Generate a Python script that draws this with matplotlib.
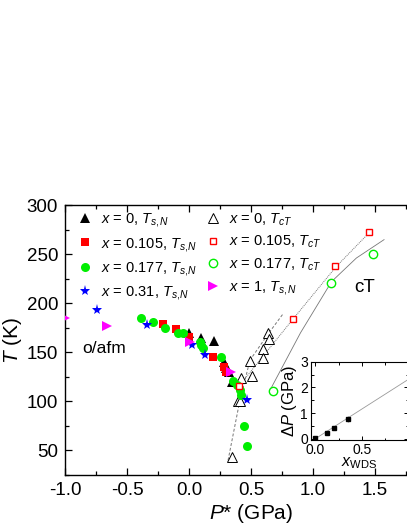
import numpy as np
import matplotlib
matplotlib.use('Agg')
import matplotlib.pyplot as plt
from matplotlib.ticker import MultipleLocator, FormatStrFormatter, FixedLocator

plt.rcParams['font.family'] = ['Liberation Sans', 'DejaVu Sans']
plt.rcParams['mathtext.fontset'] = 'custom'
plt.rcParams['mathtext.rm'] = 'Liberation Sans'
plt.rcParams['mathtext.it'] = 'Liberation Sans:italic'
plt.rcParams['mathtext.bf'] = 'Liberation Sans:bold'
plt.rcParams['axes.unicode_minus'] = False

# ---------------- data ----------------
# x = 0, T_s,N (filled black triangles)
p_x0_sn = [0.0, 0.10, 0.20, 0.28, 0.29, 0.30, 0.32, 0.35]
t_x0_sn = [169.5, 165, 161, 140, 137, 134, 130, 120]
# x = 0.105, T_s,N (filled red squares)
p_x105_sn = [-0.21, -0.105, 0.0, 0.197, 0.28, 0.30]
t_x105_sn = [178.5, 173.5, 166, 144.7, 135, 130]
# x = 0.177, T_s,N (filled green circles)
p_x177_sn = [-0.39, -0.29, -0.19, -0.09, -0.05, 0.09, 0.095, 0.11, 0.255,
             0.358, 0.385, 0.41, 0.42, 0.44, 0.47]
t_x177_sn = [185, 180.5, 174.7, 169.7, 169.5, 160.5, 157, 154, 144.7,
             121, 116.6, 112, 106.5, 75.4, 55]
# x = 0.31, T_s,N (blue stars)
p_x31_sn = [-0.744, -0.34, 0.025, 0.13, 0.47]
t_x31_sn = [193.4, 177.5, 157, 147, 101.4]
# x = 1, T_s,N (magenta right triangles)
p_x1_sn = [-1.0, -0.66, 0.01, 0.34]
t_x1_sn = [185, 176.8, 160.5, 130]
# x = 0, T_cT (open triangles)
p_x0_ct = [0.344, 0.392, 0.411, 0.419, 0.492, 0.505, 0.594, 0.599, 0.640, 0.648]
t_x0_ct = [43, 100, 100, 124, 141, 126, 153, 144, 169.5, 164]
# x = 0.105, T_cT (open red squares)
p_x105_ct = [0.403, 0.836, 1.18, 1.454]
t_x105_ct = [115.6, 183.6, 237.5, 272.4]
# x = 0.177, T_cT (open green circles)
p_x177_ct = [0.68, 1.145, 1.486]
t_x177_ct = [110.9, 220.8, 250.5]

# guide lines
gl_x0_p = [0.315, 0.411, 0.492, 0.640, 0.760]
gl_x0_t = [40, 101.4, 142, 169, 189.4]
gl_x105_p = [0.403, 0.84, 1.185, 1.47]
gl_x105_t = [115.6, 184, 237, 274]
gl_x177_p = [0.66, 0.90, 1.15, 1.35, 1.573]
gl_x177_t = [113, 170, 222, 246, 264.7]

# inset
x_wds = [0.0, 0.12, 0.20, 0.35]
dP = [0.03, 0.23, 0.40, 0.77]
dP_err = [0.04, 0.05, 0.05, 0.1]
fit_x = [0.0, 1.0]
fit_y = [0.0, 2.31]

x_ticklabels = [-1.0, -0.5, 0.0, 0.5, 1.0, 1.5]
inset_x_ticklabels = [0.0, 0.5]

labels_left = [r'$x$ = 0, $T_{s,\!N}$', r'$x$ = 0.105, $T_{s,\!N}$',
               r'$x$ = 0.177, $T_{s,\!N}$', r'$x$ = 0.31, $T_{s,\!N}$']
labels_right = [r'$x$ = 0, $T_{cT}$', r'$x$ = 0.105, $T_{cT}$',
                r'$x$ = 0.177, $T_{cT}$', r'$x$ = 1, $T_{s,\!N}$']

# ---------------- figure ----------------
W, H = 407, 527
fig = plt.figure(figsize=(W / 100, H / 100), dpi=100)
ax = fig.add_axes([65 / W, 52 / H, 372 / W, 270 / H])

gray = '#777777'
ax.plot(gl_x0_p, gl_x0_t, color=gray, lw=0.7, dashes=(3, 2), zorder=1)
ax.plot(gl_x105_p, gl_x105_t, color=gray, lw=0.7, dashes=(1, 1), zorder=1)
ax.plot(gl_x177_p, gl_x177_t, color=gray, lw=0.6, zorder=1)

h1, = ax.plot(p_x0_sn, t_x0_sn, '^', color='black', ms=6.5, mew=0, ls='none', zorder=3)
h2, = ax.plot(p_x105_sn, t_x105_sn, 's', color='#ff0000', ms=5.5, mew=0, ls='none', zorder=3)
h3, = ax.plot(p_x177_sn, t_x177_sn, 'o', color='#00ee00', ms=6.5, mew=0, ls='none', zorder=3)
h4, = ax.plot(p_x31_sn, t_x31_sn, '*', color='#0000ff', ms=8, mew=0, ls='none', zorder=3)
h8, = ax.plot(p_x1_sn, t_x1_sn, '>', color='#ff00ff', ms=6.5, mew=0, ls='none', zorder=3)
h5, = ax.plot(p_x0_ct, t_x0_ct, '^', mfc='white', mec='black', mew=0.7, ms=7, ls='none', zorder=2)
h6, = ax.plot(p_x105_ct, t_x105_ct, 's', mfc='white', mec='#ff0000', mew=1.0, ms=5, ls='none', zorder=4)
h7, = ax.plot(p_x177_ct, t_x177_ct, 'o', mfc='white', mec='#00ee00', mew=1.0, ms=6, ls='none', zorder=4)

ax.set_xlim(-1.0, 2.0)
ax.set_ylim(25, 300)
ax.xaxis.set_major_locator(FixedLocator(x_ticklabels))
ax.xaxis.set_minor_locator(MultipleLocator(0.25))
ax.xaxis.set_major_formatter(FormatStrFormatter('%.1f'))
ax.yaxis.set_major_locator(MultipleLocator(50))
ax.yaxis.set_minor_locator(MultipleLocator(25))
ax.tick_params(which='both', direction='in', top=True, right=True, width=0.9,
               labelsize=13.5, pad=5)
ax.tick_params(which='major', length=5)
ax.tick_params(which='minor', length=3)
for s in ax.spines.values():
    s.set_linewidth(1.0)

ax.set_xlabel(r'$P$* (GPa)', fontsize=15, labelpad=2)
ax.set_ylabel(r'$T$ (K)', fontsize=15, labelpad=2)

ax.text(-0.86, 154, 'o/afm', fontsize=12.5, ha='left', va='center')
ax.text(1.42, 216, 'cT', fontsize=13.5, ha='center', va='center')

handles = [h1, h2, h3, h4, h5, h6, h7, h8]
labels = labels_left + labels_right
leg = ax.legend(handles, labels, ncol=2, loc='upper left',
                bbox_to_anchor=(-0.002, 1.025), frameon=False, fontsize=10.5,
                handlelength=1.0, handletextpad=0.6, columnspacing=0.6,
                labelspacing=0.42, borderpad=0.4)

# ---------------- inset ----------------
axin = fig.add_axes([310.7 / W, 87 / H, 97.6 / W, 78.3 / H])
axin.plot(fit_x, fit_y, color='#999999', lw=0.6, zorder=1)
axin.errorbar(x_wds, dP, yerr=dP_err, fmt='s', color='black', ms=3,
              ecolor='#888888', elinewidth=0.6, capsize=0, zorder=2)
axin.set_xlim(-0.05, 1.0)
axin.set_ylim(-0.05, 3.0)
axin.xaxis.set_major_locator(FixedLocator(inset_x_ticklabels))
axin.xaxis.set_minor_locator(MultipleLocator(0.25))
axin.xaxis.set_major_formatter(FormatStrFormatter('%.1f'))
axin.yaxis.set_major_locator(MultipleLocator(1))
axin.yaxis.set_minor_locator(MultipleLocator(0.5))
axin.tick_params(which='both', direction='in', top=True, right=True, width=0.7,
                 labelsize=10, pad=2)
axin.tick_params(which='major', length=3)
axin.tick_params(which='minor', length=1.8)
for s in axin.spines.values():
    s.set_linewidth(0.8)
axin.set_ylabel(r'$\Delta P$ (GPa)', fontsize=12, labelpad=1)
axin.set_xlabel(r'$x_{\rm WDS}$', fontsize=11.5, labelpad=-1)

fig.savefig('out.png', dpi=100)
